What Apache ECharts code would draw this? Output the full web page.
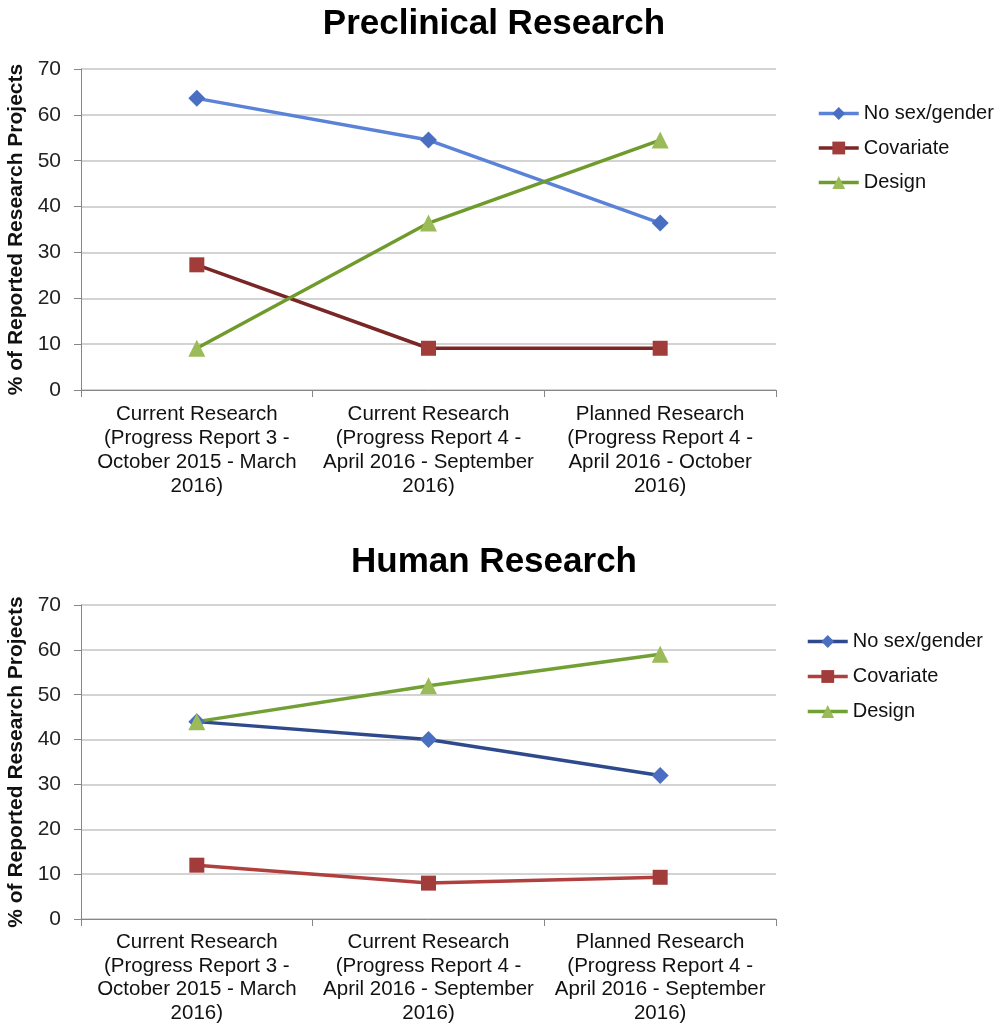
<!DOCTYPE html>
<html>
<head>
<meta charset="utf-8">
<script src="https://cdn.jsdelivr.net/npm/echarts@6/dist/echarts.min.js"></script>
<style>html,body{margin:0;padding:0;background:#fff}#c{width:1000px;height:1024px}</style>
</head>
<body>
<div id="c"></div>
<script>
const categories = [
  'Current Research\n(Progress Report 3 -\nOctober 2015 - March\n2016)',
  'Current Research\n(Progress Report 4 -\nApril 2016 - September\n2016)',
  'Planned Research\n(Progress Report 4 -\nApril 2016 - October\n2016)'
];
const categoriesHuman = [
  'Current Research\n(Progress Report 3 -\nOctober 2015 - March\n2016)',
  'Current Research\n(Progress Report 4 -\nApril 2016 - September\n2016)',
  'Planned Research\n(Progress Report 4 -\nApril 2016 - September\n2016)'
];
const seriesNames = ['No sex/gender', 'Covariate', 'Design'];
const preNoSex = [63.6, 54.5, 36.4];
const preCovariate = [27.3, 9.1, 9.1];
const preDesign = [9.1, 36.4, 54.5];
const humNoSex = [44, 40, 32];
const humCovariate = [12, 8, 9.3];
const humDesign = [44, 52, 59];
const yTicks = { min: 0, max: 70, interval: 10 };

const FONT = 'Liberation Sans, Arial, sans-serif';
const styles = {
  pre: [
    { line: '#5A82D8', mark: '#4A6FC2', symbol: 'diamond', size: 17 },
    { line: '#7A2626', mark: '#A13C3A', symbol: 'rect', size: 15 },
    { line: '#6E9B2C', mark: '#9BBB59', symbol: 'triangle', size: 17 }
  ],
  hum: [
    { line: '#2F4A8C', mark: '#4A6FC2', symbol: 'diamond', size: 17 },
    { line: '#B0403E', mark: '#A13C3A', symbol: 'rect', size: 15 },
    { line: '#72A034', mark: '#9BBB59', symbol: 'triangle', size: 17 }
  ]
};

function mkSeries(name, data, st, idx) {
  return {
    name: name, type: 'line', data: data,
    xAxisIndex: idx, yAxisIndex: idx,
    symbol: st.symbol, symbolSize: st.size,
    lineStyle: { color: st.line, width: 3.5 },
    itemStyle: { color: st.mark },
    emphasis: { disabled: true },
    animation: false, z: 3
  };
}

function yAxis(idx) {
  return {
    type: 'value', gridIndex: idx, min: yTicks.min, max: yTicks.max, interval: yTicks.interval,
    name: '% of Reported Research Projects', nameLocation: 'middle', nameGap: 47,
    nameTextStyle: { fontFamily: FONT, fontSize: 21, fontWeight: 'bold', color: '#111' },
    axisLine: { show: true, lineStyle: { color: '#868686', width: 1 } },
    axisTick: { show: true, length: 7, lineStyle: { color: '#868686' } },
    axisLabel: { fontFamily: FONT, fontSize: 21, color: '#222', margin: 20 },
    splitLine: { show: true, lineStyle: { color: '#C4C4C4', width: 1.5 } }
  };
}
function xAxis(idx, cats, lh) {
  return {
    type: 'category', gridIndex: idx, data: cats, boundaryGap: true,
    axisLine: { show: true, lineStyle: { color: '#868686', width: 1 } },
    axisTick: { show: true, length: 7, lineStyle: { color: '#868686' } },
    axisLabel: { interval: 0, fontFamily: FONT, fontSize: 20.5, lineHeight: lh, color: '#111', margin: 12 }
  };
}
function legendData(st) {
  return seriesNames.map((n, i) => ({
    name: n,
    itemStyle: { color: st[i].mark },
    lineStyle: { color: st[i].line, width: 3.5 }
  }));
}

const chart = echarts.init(document.getElementById('c'), null, { renderer: 'canvas' });
chart.setOption({
  backgroundColor: '#fff',
  animation: false,
  title: [
    { text: 'Preclinical Research', left: 489, top: 2, textAlign: 'center',
      textStyle: { fontFamily: FONT, fontSize: 35, fontWeight: 'bold', color: '#000' } },
    { text: 'Human Research', left: 489, top: 540, textAlign: 'center',
      textStyle: { fontFamily: FONT, fontSize: 35, fontWeight: 'bold', color: '#000' } }
  ],
  legend: [
    { orient: 'vertical', left: 817, top: 102, padding: 0, itemWidth: 40, itemHeight: 16, itemGap: 11.5,
      selectedMode: false, data: legendData(styles.pre),
      textStyle: { fontFamily: FONT, fontSize: 20, color: '#111', lineHeight: 23 } },
    { orient: 'vertical', left: 806, top: 630, padding: 0, itemWidth: 40, itemHeight: 16, itemGap: 12,
      selectedMode: false, data: legendData(styles.hum),
      textStyle: { fontFamily: FONT, fontSize: 20, color: '#111', lineHeight: 23 } }
  ],
  grid: [
    { left: 81, top: 69, width: 695, height: 321, outerBoundsMode: 'none', containLabel: false },
    { left: 81, top: 605, width: 695, height: 314, outerBoundsMode: 'none', containLabel: false }
  ],
  xAxis: [xAxis(0, categories, 24), xAxis(1, categoriesHuman, 23.5)],
  yAxis: [yAxis(0), yAxis(1)],
  series: [
    mkSeries(seriesNames[0], preNoSex, styles.pre[0], 0),
    mkSeries(seriesNames[1], preCovariate, styles.pre[1], 0),
    mkSeries(seriesNames[2], preDesign, styles.pre[2], 0),
    mkSeries(seriesNames[0], humNoSex, styles.hum[0], 1),
    mkSeries(seriesNames[1], humCovariate, styles.hum[1], 1),
    mkSeries(seriesNames[2], humDesign, styles.hum[2], 1)
  ]
});
</script>
</body>
</html>
